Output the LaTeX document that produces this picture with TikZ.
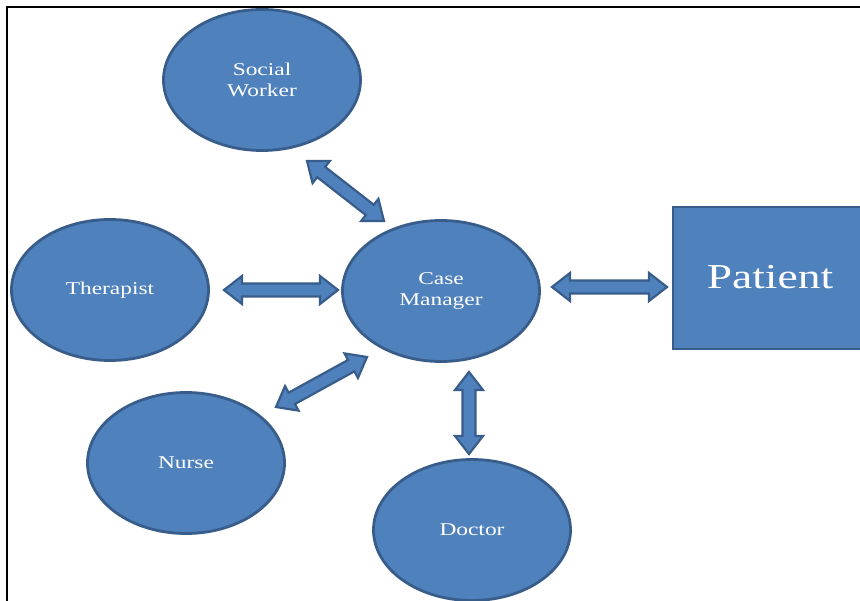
\documentclass[tikz,border=0pt]{standalone}
\usepackage{fontspec}
\usetikzlibrary{shapes.geometric,calc}
\newfontfamily\lblfont[FakeStretch=1.3]{Liberation Serif}
\definecolor{nodefill}{HTML}{4F81BD}
\definecolor{nodeline}{HTML}{385D8A}
\tikzset{
  circ/.style={ellipse, draw=nodeline, fill=nodefill, line width=2.8pt, inner sep=0pt,
    minimum width=197pt, minimum height=141pt, text=white, align=center,
    font=\lblfont\fontsize{18}{21}\selectfont},
  patbox/.style={rectangle, draw=nodeline, fill=nodefill, line width=2.8pt},
  barrow/.style={draw=nodeline, fill=nodefill, line width=2.2pt, line join=miter},
  frameline/.style={draw=black, line width=2.6pt}
}
\newcommand\blockarrow[2]{%
  \path let \p1=(#1), \p2=(#2), \n1={atan2(\y2-\y1,\x2-\x1)}, \n2={veclen(\x2-\x1,\y2-\y1)} in
    \pgfextra{\xdef\baAng{\n1}\xdef\baLen{\n2}};
  \begin{scope}[shift={(#1)}, rotate=\baAng, x=1pt, y=1pt]
    \draw[barrow] (0,0) -- (18,14) -- (18,6.5) -- (\baLen-18,6.5) -- (\baLen-18,14) -- (\baLen,0)
      -- (\baLen-18,-14) -- (\baLen-18,-6.5) -- (18,-6.5) -- (18,-14) -- cycle;
  \end{scope}}
\begin{document}
\begin{tikzpicture}[x=1pt,y=-1pt]
  \useasboundingbox (0,0) rectangle (860,601);
  \clip (0,0) rectangle (860,601);
  \fill[white] (0,0) rectangle (860,601);
  % frame
  \coordinate (fbl) at (7,605);
  \coordinate (ftl) at (7,7);
  \coordinate (ftr) at (865,7);
  \draw[frameline] (fbl) -- (ftl) -- (ftr);
  % nodes
  \node[circ] (sw) at (262,80) {Social\\Worker};
  \node[circ] (th) at (110,290) {Therapist};
  \node[circ] (cm) at (441,291) {Case\\Manager};
  \node[circ] (nu) at (186,463) {Nurse};
  \node[circ] (dr) at (472,530) {Doctor};
  \draw[patbox] (673,207) rectangle (880,349);
  \node[text=white, font=\lblfont\fontsize{35}{40}\selectfont] (pat) at (770,277) {Patient};
  % arrow end points
  \coordinate (a1s) at (307,161);
  \coordinate (a1e) at (384,221);
  \coordinate (a2s) at (224,290);
  \coordinate (a2e) at (338,290);
  \coordinate (a3s) at (276,407);
  \coordinate (a3e) at (367,357);
  \coordinate (a4s) at (469,372);
  \coordinate (a4e) at (469,454);
  \coordinate (a5s) at (552,287);
  \coordinate (a5e) at (667,287);
  \blockarrow{a1s}{a1e}
  \blockarrow{a2s}{a2e}
  \blockarrow{a3s}{a3e}
  \blockarrow{a4s}{a4e}
  \blockarrow{a5s}{a5e}
\end{tikzpicture}
\end{document}
